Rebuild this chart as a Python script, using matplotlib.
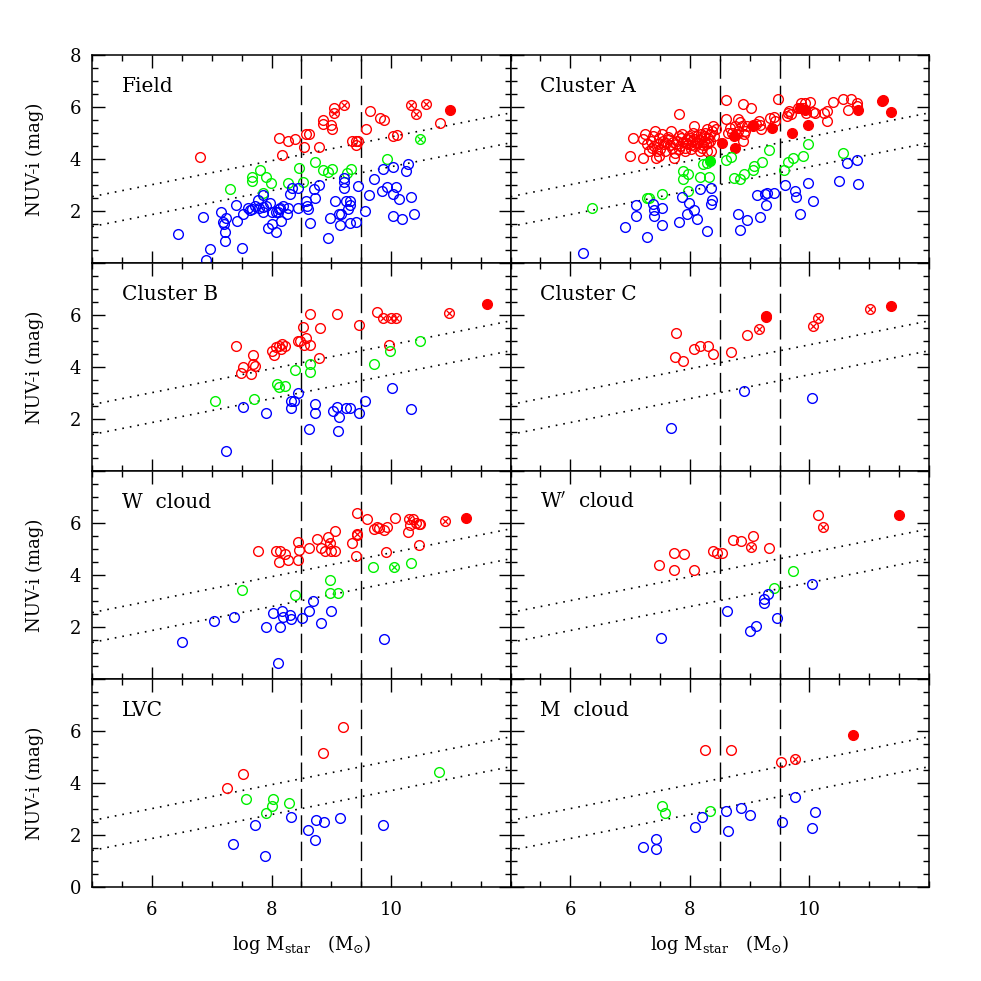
"""NUV-i colour versus stellar mass for Virgo substructures (8 panels)."""
import matplotlib
matplotlib.use("Agg")
import matplotlib.pyplot as plt
import numpy as np

# ---- data: (log Mstar, NUV-i) per panel and per symbol class ----
# red = open red, red_x = red with cross, red_f = filled red, etc.

field_red = [(6.81, 4.08), (8.13, 4.79), (8.27, 4.68), (8.40, 4.75), (8.17, 4.17),
             (8.54, 4.47), (8.57, 4.94), (8.62, 4.94), (8.79, 4.45), (8.86, 5.49),
             (8.86, 5.35), (9.04, 5.94), (8.99, 5.32), (9.01, 5.16), (9.34, 4.68),
             (9.41, 4.68), (9.45, 4.68), (9.41, 4.52), (9.58, 5.17), (9.65, 5.83),
             (9.81, 5.58), (9.89, 5.51), (10.04, 4.89), (10.10, 4.91), (10.82, 5.39)]
field_red_x = [(9.04, 5.76), (9.22, 6.06), (10.34, 6.06), (10.41, 5.74), (10.58, 6.13)]
field_red_f = [(10.99, 5.88)]
field_green = [(7.30, 2.83), (7.67, 3.30), (7.67, 3.15), (7.80, 3.56), (7.90, 3.30),
               (7.99, 3.08), (7.86, 2.70), (8.27, 3.06), (8.46, 3.66), (8.52, 3.11),
               (8.72, 3.87), (8.86, 3.57), (8.94, 3.51), (9.02, 3.62), (9.26, 3.47),
               (9.33, 3.60), (9.94, 4.01)]
field_green_x = [(10.48, 4.75)]
field_blue = [(6.44, 1.11), (6.85, 1.76), (6.91, 0.13), (6.97, 0.53), (7.15, 1.95),
              (7.18, 1.59), (7.20, 1.49), (7.24, 1.74), (7.22, 1.17), (7.22, 0.86),
              (7.41, 2.23), (7.43, 1.62), (7.50, 0.58), (7.52, 1.90), (7.60, 2.10),
              (7.64, 2.03), (7.67, 2.06), (7.72, 2.19), (7.78, 2.41), (7.79, 2.13),
              (7.86, 2.60), (7.86, 2.15), (7.86, 1.94), (7.91, 2.19), (7.98, 2.32),
              (8.01, 1.94), (8.07, 1.96), (8.11, 1.97), (8.12, 2.06), (8.15, 2.13),
              (8.19, 2.17), (8.26, 1.90), (8.28, 2.13), (8.31, 2.66), (8.34, 2.89),
              (8.45, 2.13), (8.45, 2.89), (8.57, 2.38), (8.60, 2.19), (8.61, 2.06),
              (8.65, 1.55), (8.71, 2.86), (8.72, 2.51), (8.80, 2.98), (8.95, 0.94),
              (8.97, 1.72), (9.06, 2.38), (9.13, 1.87), (9.15, 1.45), (9.17, 1.90),
              (9.21, 3.28), (9.21, 3.11), (9.21, 2.89), (9.24, 2.38), (9.28, 2.06),
              (9.31, 2.38), (9.32, 2.23), (9.32, 1.53), (9.41, 1.59), (9.44, 2.96),
              (9.57, 2.01), (9.63, 2.60), (9.72, 3.24), (9.84, 2.77), (9.87, 3.60),
              (9.94, 2.92), (10.04, 2.66), (10.04, 3.69), (10.04, 1.81), (10.08, 2.93),
              (10.13, 2.47), (10.19, 1.68), (10.25, 3.53), (10.28, 3.79), (10.33, 2.54),
              (10.38, 1.87), (7.94, 1.36), (8.01, 1.49), (8.07, 1.17), (8.16, 1.62)]

clA_red = [(7.05, 4.81), (6.99, 4.10), (7.21, 4.02), (7.21, 4.75), (7.25, 4.96),
           (7.28, 4.56), (7.31, 4.30), (7.35, 4.68), (7.37, 4.43), (7.39, 4.88),
           (7.42, 5.07), (7.43, 4.02), (7.45, 4.30), (7.47, 4.58), (7.48, 4.79),
           (7.49, 4.11), (7.50, 4.40), (7.53, 4.94), (7.56, 4.56), (7.59, 4.30),
           (7.63, 4.75), (7.64, 4.84), (7.68, 5.07), (7.70, 4.43), (7.73, 4.04),
           (7.75, 4.24), (7.77, 4.56), (7.78, 4.68), (7.81, 4.88), (7.82, 4.37),
           (7.84, 4.49), (7.85, 4.79), (7.87, 4.94), (7.89, 4.66), (7.91, 4.43),
           (7.92, 4.30), (7.95, 4.75), (7.97, 4.56), (7.98, 4.88), (8.01, 4.40),
           (8.03, 4.68), (8.05, 5.00), (8.06, 5.26), (8.07, 4.75), (8.09, 4.49),
           (8.12, 4.88), (8.14, 4.62), (8.17, 4.30), (8.19, 4.79), (8.20, 4.43),
           (8.23, 4.68), (8.24, 4.88), (8.26, 5.00), (8.27, 4.56), (8.28, 5.17),
           (8.29, 4.30), (8.31, 4.81), (8.33, 4.68), (8.36, 4.30), (8.37, 5.07),
           (8.39, 5.26), (8.41, 4.88), (8.43, 5.17), (7.82, 5.74), (8.61, 6.26),
           (8.61, 5.52), (8.89, 6.12), (9.02, 5.96), (8.63, 5.00), (8.67, 5.20),
           (8.70, 5.00), (8.76, 5.26), (8.77, 4.94), (8.80, 5.52), (8.81, 5.07),
           (8.84, 5.42), (8.87, 5.26), (8.88, 4.68), (8.90, 4.94), (8.92, 5.07),
           (8.95, 5.26), (9.06, 5.26), (9.10, 5.35), (9.15, 5.45), (9.17, 5.30),
           (9.19, 5.17), (9.34, 5.58), (9.40, 5.62), (9.42, 5.45), (9.47, 6.31),
           (9.62, 5.64), (9.64, 5.77), (9.66, 5.86), (9.69, 5.71), (9.81, 5.96),
           (9.86, 6.15), (9.90, 5.96), (9.92, 6.15), (9.95, 5.77), (10.01, 6.19),
           (10.06, 5.81), (10.10, 5.77), (10.25, 5.77), (10.29, 5.86), (10.30, 5.45),
           (10.40, 6.19), (10.56, 6.31), (10.65, 5.90), (10.70, 6.31), (10.79, 6.15),
           (10.79, 6.02), (7.60, 4.62), (7.66, 4.52), (7.94, 4.62), (8.00, 4.80),
           (8.10, 4.60), (8.15, 4.72), (8.22, 4.55), (8.30, 4.62), (8.34, 4.95),
           (7.40, 4.50), (7.55, 4.70), (7.72, 4.65), (8.02, 4.52), (8.18, 4.95)]
clA_red_f = [(8.53, 4.62), (8.76, 4.43), (8.73, 4.90), (9.05, 5.32), (9.37, 5.19),
             (9.70, 4.98), (9.98, 5.30), (9.84, 5.96), (9.92, 5.90), (10.81, 5.90),
             (11.21, 6.22), (11.23, 6.26), (11.37, 5.80)]
clA_green = [(6.36, 2.10), (7.28, 2.51), (7.31, 2.51), (7.53, 2.64), (7.88, 3.53),
             (7.97, 3.43), (7.89, 3.21), (7.97, 2.77), (8.17, 3.32), (8.32, 3.32),
             (8.22, 3.81), (8.28, 3.85), (8.60, 3.94), (8.68, 4.07), (8.74, 3.25),
             (8.84, 3.21), (8.91, 3.43), (9.05, 3.56), (9.07, 3.72), (9.21, 3.87),
             (9.32, 4.36), (9.58, 3.56), (9.64, 3.89), (9.73, 4.05), (9.90, 4.11),
             (9.97, 4.56), (10.56, 4.24)]
clA_green_f = [(8.33, 3.92)]
clA_blue = [(6.21, 0.38), (6.92, 1.40), (7.09, 2.22), (7.09, 1.81), (7.29, 1.00),
            (7.38, 2.28), (7.40, 2.02), (7.40, 1.81), (7.53, 2.13), (7.54, 1.44),
            (7.82, 1.58), (7.87, 2.55), (7.95, 1.87), (7.99, 2.29), (8.07, 2.02),
            (8.12, 1.68), (8.17, 2.83), (8.28, 1.23), (8.36, 2.87), (8.37, 2.41),
            (8.36, 2.26), (8.81, 1.90), (8.83, 1.27), (8.96, 1.65), (9.13, 2.61),
            (9.18, 1.77), (9.27, 2.23), (9.29, 2.70), (9.26, 2.64), (9.41, 2.68),
            (9.59, 2.99), (9.75, 2.77), (9.77, 2.55), (9.84, 1.90), (9.97, 3.09),
            (10.06, 2.38), (10.49, 3.15), (10.62, 3.85), (10.79, 3.96), (10.82, 3.02)]

clB_red = [(7.40, 4.79), (7.49, 3.78), (7.53, 4.00), (7.65, 3.74), (7.69, 4.12),
           (7.69, 4.45), (7.73, 4.03), (8.01, 4.60), (8.04, 4.45), (8.07, 4.77),
           (8.12, 4.82), (8.16, 4.70), (8.18, 4.88), (8.22, 4.79), (8.44, 4.98),
           (8.47, 4.98), (8.52, 5.53), (8.57, 5.11), (8.55, 4.86), (8.65, 4.83),
           (8.65, 6.04), (8.80, 4.35), (8.81, 5.49), (9.10, 6.04), (9.47, 5.62),
           (9.77, 6.10), (9.96, 4.86)]
clB_red_x = [(9.86, 5.87), (10.00, 5.87), (10.09, 5.87), (10.97, 6.09)]
clB_red_f = [(11.60, 6.42)]
clB_green = [(7.06, 2.67), (7.71, 2.76), (8.09, 3.33), (8.12, 3.23), (8.23, 3.27),
             (8.40, 3.88), (8.64, 4.10), (8.65, 3.82), (9.72, 4.12), (9.99, 4.60),
             (10.48, 4.98)]
clB_blue = [(7.23, 0.75), (7.52, 2.47), (7.90, 2.21), (8.32, 2.67), (8.33, 2.42),
            (8.38, 2.67), (8.45, 2.98), (8.62, 1.61), (8.72, 2.57), (8.73, 2.21),
            (9.03, 2.29), (9.10, 2.44), (9.13, 2.08), (9.12, 1.53), (9.25, 2.42),
            (9.31, 2.42), (9.46, 2.24), (9.57, 2.70), (10.01, 3.19), (10.34, 2.37)]

clC_red = [(7.77, 5.29), (7.75, 4.37), (7.88, 4.22), (8.07, 4.70), (8.17, 4.82),
           (8.30, 4.82), (8.38, 4.50), (8.68, 4.58), (8.96, 5.24)]
clC_red_x = [(9.16, 5.44), (10.06, 5.59), (10.14, 5.87), (11.01, 6.23)]
clC_red_f = [(9.28, 5.97), (9.28, 5.92), (11.36, 6.36)]
clC_blue = [(7.68, 1.66), (8.91, 3.07), (10.05, 2.79)]

wcl_red = [(7.77, 4.90), (8.07, 4.90), (8.13, 4.48), (8.15, 4.92), (8.22, 4.82),
           (8.28, 4.57), (8.44, 5.26), (8.45, 4.58), (8.46, 4.95), (8.62, 5.02),
           (8.76, 5.37), (8.82, 5.02), (8.89, 4.90), (8.95, 5.47), (8.99, 4.90),
           (9.07, 5.68), (9.07, 4.90), (9.35, 5.21), (9.42, 4.73), (9.43, 6.38),
           (9.43, 5.52), (9.59, 6.15), (9.72, 5.78), (9.77, 5.83), (9.80, 5.81),
           (9.88, 5.71), (9.94, 5.85), (9.91, 4.88), (10.07, 6.19), (10.29, 5.64),
           (10.32, 5.91), (10.37, 6.13), (10.46, 5.96), (10.49, 5.96), (10.46, 5.14)]
wcl_red_x = [(8.97, 5.24), (9.43, 5.58), (10.30, 6.13), (10.41, 6.00), (10.90, 6.06)]
wcl_red_f = [(11.25, 6.17)]
wcl_green = [(7.51, 3.43), (8.40, 3.21), (8.98, 3.82), (8.98, 3.30), (9.11, 3.31),
             (9.70, 4.32), (10.33, 4.44)]
wcl_green_x = [(10.05, 4.29)]
wcl_blue = [(6.50, 1.40), (7.04, 2.24), (7.37, 2.39), (7.91, 2.00), (8.03, 2.55),
            (8.10, 0.60), (8.14, 2.00), (8.18, 2.60), (8.19, 2.38), (8.31, 2.47),
            (8.32, 2.29), (8.51, 2.36), (8.63, 2.62), (8.69, 2.99), (8.83, 2.15),
            (8.99, 2.61), (9.89, 1.53)]

wpcl_red = [(7.49, 4.37), (7.74, 4.86), (7.74, 4.20), (7.90, 4.82), (8.06, 4.18),
            (8.39, 4.92), (8.45, 4.83), (8.53, 4.86), (8.72, 5.33), (8.85, 5.30),
            (9.06, 5.50), (9.33, 5.05), (10.14, 6.32)]
wpcl_red_x = [(9.03, 5.09), (10.23, 5.85)]
wpcl_red_f = [(11.49, 6.30)]
wpcl_green = [(9.41, 3.51), (9.73, 4.13)]
wpcl_blue = [(7.52, 1.58), (8.62, 2.62), (9.00, 1.83), (9.10, 2.04), (9.24, 2.93),
             (9.24, 3.09), (9.30, 3.27), (9.46, 2.33), (10.04, 3.66)]

lvc_red = [(7.25, 3.81), (7.53, 4.35), (8.86, 5.16), (9.19, 6.15)]
lvc_green = [(7.57, 3.38), (7.91, 2.84), (8.01, 3.10), (8.03, 3.39), (8.30, 3.23),
             (10.81, 4.40)]
lvc_blue = [(7.36, 1.64), (7.72, 2.37), (7.89, 1.19), (8.32, 2.69), (8.61, 2.18),
            (8.74, 2.58), (8.73, 1.82), (8.87, 2.49), (9.14, 2.64), (9.86, 2.38)]

mcl_red = [(8.26, 5.26), (8.68, 5.26), (9.52, 4.82)]
mcl_red_x = [(9.75, 4.91)]
mcl_red_f = [(10.72, 5.83)]
mcl_green = [(7.53, 3.09), (7.59, 2.83), (8.33, 2.91)]
mcl_blue = [(7.21, 1.55), (7.43, 1.85), (7.43, 1.46), (8.08, 2.31), (8.20, 2.68),
            (8.60, 2.91), (8.63, 2.15), (8.85, 3.02), (9.00, 2.78), (9.54, 2.49),
            (9.76, 3.44), (10.05, 2.28), (10.10, 2.87)]

panel_names = ["Field", "Cluster A", "Cluster B", "Cluster C",
               "W  cloud", "W$'$  cloud", "LVC", "M  cloud"]

panels = [
    {"red": field_red, "red_x": field_red_x, "red_f": field_red_f,
     "green": field_green, "green_x": field_green_x, "blue": field_blue},
    {"red": clA_red, "red_f": clA_red_f, "green": clA_green,
     "green_f": clA_green_f, "blue": clA_blue},
    {"red": clB_red, "red_x": clB_red_x, "red_f": clB_red_f,
     "green": clB_green, "blue": clB_blue},
    {"red": clC_red, "red_x": clC_red_x, "red_f": clC_red_f, "blue": clC_blue},
    {"red": wcl_red, "red_x": wcl_red_x, "red_f": wcl_red_f,
     "green": wcl_green, "green_x": wcl_green_x, "blue": wcl_blue},
    {"red": wpcl_red, "red_x": wpcl_red_x, "red_f": wpcl_red_f,
     "green": wpcl_green, "blue": wpcl_blue},
    {"red": lvc_red, "green": lvc_green, "blue": lvc_blue},
    {"red": mcl_red, "red_x": mcl_red_x, "red_f": mcl_red_f,
     "green": mcl_green, "blue": mcl_blue},
]

# dividing lines of the green valley: NUV-i = slope * logM + offset
slope = 0.46
offsets = [0.25, -0.90]
mass_cuts = [8.5, 9.5]

colors = {"red": "#ff0000", "green": "#00f000", "blue": "#0000ff"}

plt.rcParams["font.family"] = ["DejaVu Serif"]
plt.rcParams["mathtext.fontset"] = "dejavuserif"

fig, axes = plt.subplots(4, 2, figsize=(9.81, 9.81), dpi=100)
fig.subplots_adjust(left=0.094, right=0.947, bottom=0.096, top=0.944, wspace=0, hspace=0)

MS = 7.0
xl = np.array([5.0, 12.0])

for i, ax in enumerate(axes.flat):
    row, col = divmod(i, 2)
    data = panels[i]

    for x0 in mass_cuts:
        ax.axvline(x0, color="black", lw=1.0, dashes=(14, 5), zorder=1)
    for off in offsets:
        ax.plot(xl, slope * xl + off, color="black", lw=1.2,
                linestyle=(0, (1, 3.6)), zorder=1)

    for kind, pts in data.items():
        if not pts:
            continue
        cname = kind.split("_")[0]
        c = colors[cname]
        xs, ys = np.array(pts).T
        if kind.endswith("_f"):
            ax.plot(xs, ys, "o", ms=MS, mfc=c, mec=c, mew=1.0, zorder=3)
        else:
            ax.plot(xs, ys, "o", ms=MS, mfc="none", mec=c, mew=1.0, zorder=3)
        if kind.endswith("_x"):
            ax.plot(xs, ys, "x", ms=4.0, mec=c, mew=0.9, zorder=3)

    ax.set_xlim(5, 12)
    ax.set_ylim(0, 8)
    ax.set_xticks([6, 8, 10])
    ax.set_xticks(np.arange(5, 12.01, 0.5), minor=True)
    ax.set_yticks([0, 2, 4, 6, 8])
    ax.set_yticks(np.arange(0, 8.01, 0.5), minor=True)
    ax.tick_params(which="both", direction="in", top=True, right=True,
                   labelsize=13, width=1.0)
    ax.tick_params(which="major", length=9)
    ax.tick_params(which="minor", length=4.5)
    ax.tick_params(axis="x", pad=10)
    ax.tick_params(axis="y", pad=8)
    for s in ax.spines.values():
        s.set_linewidth(1.1)

    ax.text(0.07, 0.85, panel_names[i], transform=ax.transAxes,
            fontsize=14.5, va="center", ha="left")

    if col == 0:
        labels = ["0", "2", "4", "6", "8"]
        if row != 0:
            labels[4] = ""
        if row != 3:
            labels[0] = ""
        ax.set_yticklabels(labels)
        ax.set_ylabel("NUV-i (mag)", fontsize=13)
        ax.yaxis.set_label_coords(-0.115, 0.5)
    else:
        ax.tick_params(axis="y", labelleft=False)

    if row == 3:
        ax.set_xlabel(r"log M$_{\rm star}$   (M$_{\odot}$)", fontsize=13)
        ax.xaxis.set_label_coords(0.5, -0.22)
    else:
        ax.tick_params(axis="x", labelbottom=False)

fig.savefig("out.png", dpi=100)
